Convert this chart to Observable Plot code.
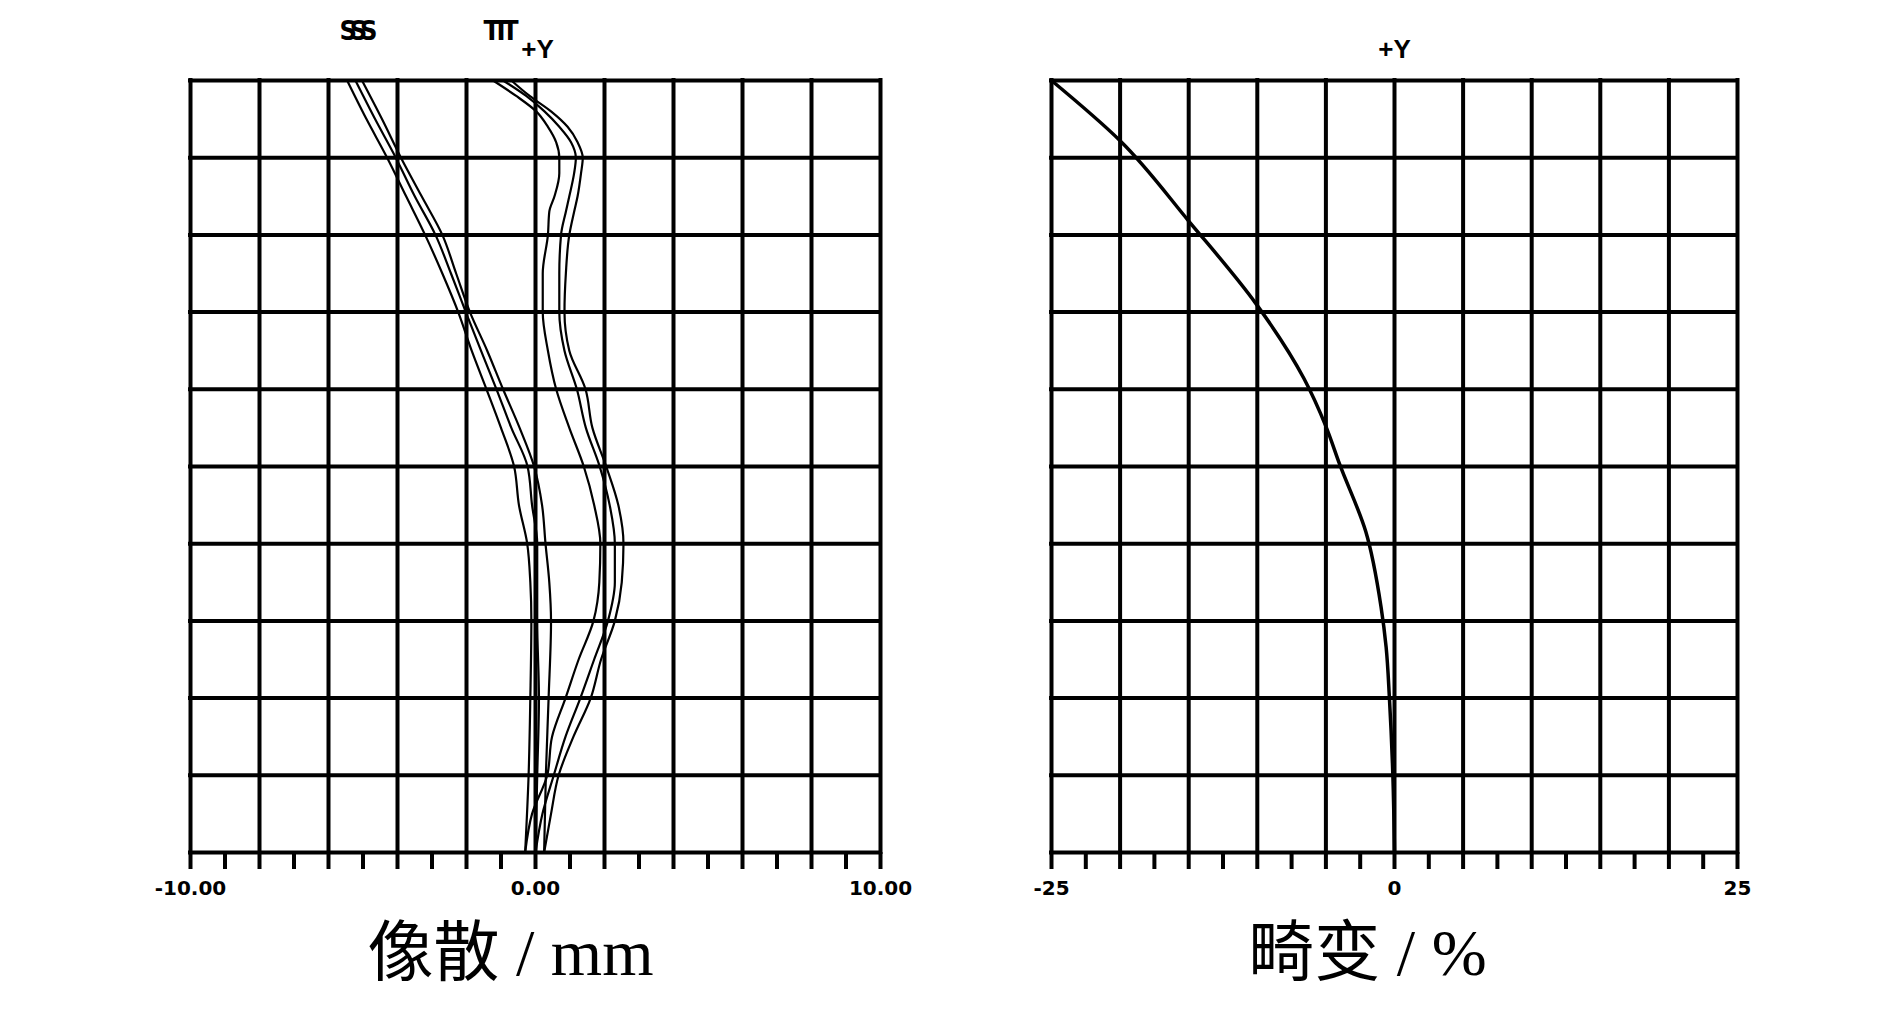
<!DOCTYPE html>
<html>
<head>
<meta charset="utf-8">
<script src="https://cdn.jsdelivr.net/npm/d3@7"></script>
<script src="https://cdn.jsdelivr.net/npm/@observablehq/plot@0.6"></script>
<style>
  html, body { margin: 0; padding: 0; overflow: hidden; background: white; }
  #wrap { position: relative; width: 1890px; height: 1016px; }
  .panel { position: absolute; top: 0; }
</style>
</head>
<body>
<div id="wrap">
  <div class="panel" id="left" style="left:0px"></div>
  <div class="panel" id="right" style="left:945px"></div>
</div>
<script>
// ---------- Astigmatism (像散 / mm) ----------
const fieldS = [0, 0.1, 0.2, 0.3, 0.35, 0.4, 0.45, 0.5, 0.55, 0.6, 0.65, 0.7, 0.75, 0.8, 0.85, 0.9, 0.95, 1.0];
const s1 = [-0.3, -0.2, -0.15, -0.12, -0.15, -0.24, -0.48, -0.62, -1.0, -1.42, -1.85, -2.24, -2.7, -3.2, -3.75, -4.3, -4.9, -5.46];
const s2 = [0.0, 0.05, 0.1, 0.05, 0.05, 0.05, -0.1, -0.23, -0.7, -1.13, -1.58, -2.02, -2.45, -2.9, -3.5, -4.05, -4.65, -5.22];
const s3 = [0.25, 0.3, 0.38, 0.45, 0.4, 0.29, 0.19, -0.04, -0.46, -0.94, -1.4, -1.9, -2.3, -2.7, -3.3, -3.9, -4.45, -5.03];

const fieldT = [0, 0.05, 0.1, 0.15, 0.2, 0.25, 0.3, 0.35, 0.4, 0.45, 0.5, 0.55, 0.6, 0.65, 0.7, 0.75, 0.8, 0.83, 0.85, 0.88, 0.9, 0.92, 0.94, 0.96, 0.98, 1.0];
const t1 = [-0.3, -0.1, 0.34, 0.48, 0.87, 1.25, 1.68, 1.85, 1.88, 1.7, 1.4, 0.98, 0.6, 0.36, 0.21, 0.21, 0.36, 0.4, 0.55, 0.69, 0.69, 0.6, 0.36, 0.02, -0.56, -1.23];
const t2 = [0.0, 0.2, 0.53, 0.87, 1.3, 1.7, 2.1, 2.3, 2.3, 2.15, 1.86, 1.46, 1.2, 0.84, 0.69, 0.69, 0.74, 0.88, 0.98, 1.12, 1.17, 1.03, 0.69, 0.26, -0.27, -0.94];
const t3 = [0.25, 0.45, 0.67, 1.1, 1.6, 1.9, 2.3, 2.5, 2.55, 2.4, 2.05, 1.65, 1.45, 0.98, 0.84, 0.88, 0.98, 1.12, 1.22, 1.32, 1.37, 1.22, 0.93, 0.45, -0.17, -0.7];

const astigTicks = d3.range(-10, 10.001, 1);
const astigGrid = d3.range(-10, 10.001, 2);
const astigTickLabels = {"-10": "-10.00", "0": "0.00", "10": "10.00"};
const astigTitle = "像散 / mm";
const curveLabels = ["SSS", "TTT"];

// ---------- Distortion (畸变 / %) ----------
const fieldD = [0, 0.1, 0.2, 0.266, 0.318, 0.416, 0.503, 0.552, 0.614, 0.711, 0.818, 0.922, 1.0];
const dist = [0, -0.12, -0.37, -0.61, -0.98, -2.1, -4.0, -5.0, -6.6, -10.1, -15, -20, -25];

const distTicks = d3.range(-25, 25.001, 2.5);
const distGrid = d3.range(-25, 25.001, 5);
const distTickLabels = {"-25": "-25", "0": "0", "25": "25"};
const distTitle = "畸变 / %";

const fieldGrid = d3.range(0, 1.0001, 0.1);
const topLabel = "+Y";

// ---------- build tables ----------
const sCurves = [s1, s2, s3];
const tCurves = [t1, t2, t3];
const astigData = [];
sCurves.forEach((arr, i) => arr.forEach((v, j) => astigData.push({series: "S" + i, x: v, y: fieldS[j]})));
tCurves.forEach((arr, i) => arr.forEach((v, j) => astigData.push({series: "T" + i, x: v, y: fieldT[j]})));
// one label per family, placed above the top end of the middle curve of that family
const sTop = [{x: s2[s2.length - 1], y: 1, t: curveLabels[0]}];
const tTop = [{x: t2[t2.length - 1], y: 1, t: curveLabels[1]}];
const distData = dist.map((v, j) => ({x: v, y: fieldD[j]}));

const labelFont = "'DejaVu Sans', sans-serif";
const titleFont = "'Liberation Serif', 'Noto Sans CJK SC', serif";
const famFont = "'DejaVu Sans Condensed', 'DejaVu Sans', sans-serif";

function frameMarks(grid) {
  return [
    Plot.ruleX(grid, {stroke: "black", strokeWidth: 4, strokeLinecap: "square"}),
    Plot.ruleY(fieldGrid, {stroke: "black", strokeWidth: 4, strokeLinecap: "square"})
  ];
}

const left = Plot.plot({
  width: 945, height: 1016,
  marginLeft: 190, marginRight: 65, marginTop: 80, marginBottom: 164,
  x: {domain: [-10, 10]},
  y: {domain: [0, 1], axis: null},
  style: {background: "white", color: "black"},
  marks: [
    ...frameMarks(astigGrid),
    Plot.axisX({ticks: astigTicks, tickSize: 17, strokeWidth: 4, tickPadding: 11,
      tickFormat: d => astigTickLabels[String(Math.round(d))] ?? "",
      fontSize: 20, fontWeight: "bold", fontFamily: labelFont, label: null}),
    Plot.line(astigData, {x: "x", y: "y", z: "series", stroke: "black", strokeWidth: 2.2, curve: "monotone-y"}),
    Plot.text(sTop, {x: "x", y: "y", text: "t", dy: -49, fontSize: 27, fontWeight: "bold", fontFamily: famFont, fill: "black"}),
    Plot.text(tTop, {x: "x", y: "y", text: "t", dx: -6, dy: -49, fontSize: 27, fontWeight: "bold", fontFamily: famFont, fill: "black"}),
    Plot.text([topLabel], {x: 0, y: 1, text: d => d, dx: 2, dy: -31, fontSize: 26, fontWeight: "bold", fontFamily: "'Liberation Sans', sans-serif", fill: "black"}),
    Plot.text([astigTitle], {frameAnchor: "bottom", text: d => d, dx: -25, dy: 122, fontSize: 66, fontFamily: titleFont, fill: "black"})
  ]
});
document.getElementById("left").appendChild(left);
// squeeze the overlapping curve-family letters together, as in the original plot
d3.select(left).selectAll("text")
  .filter(function() { return this.textContent === "SSS"; })
  .attr("letter-spacing", "-6px");
d3.select(left).selectAll("text")
  .filter(function() { return this.textContent === "TTT"; })
  .attr("letter-spacing", "-8px");

const right = Plot.plot({
  width: 945, height: 1016,
  marginLeft: 106, marginRight: 153, marginTop: 80, marginBottom: 164,
  x: {domain: [-25, 25]},
  y: {domain: [0, 1], axis: null},
  style: {background: "white", color: "black"},
  marks: [
    ...frameMarks(distGrid),
    Plot.axisX({ticks: distTicks, tickSize: 17, strokeWidth: 4, tickPadding: 11,
      tickFormat: d => distTickLabels[String(Math.round(d * 10) / 10)] ?? "",
      fontSize: 20, fontWeight: "bold", fontFamily: labelFont, label: null}),
    Plot.line(distData, {x: "x", y: "y", stroke: "black", strokeWidth: 3.5, curve: "monotone-y"}),
    Plot.text([topLabel], {x: 0, y: 1, text: d => d, dy: -31, fontSize: 26, fontWeight: "bold", fontFamily: "'Liberation Sans', sans-serif", fill: "black"}),
    Plot.text([distTitle], {frameAnchor: "bottom", text: d => d, dx: -27, dy: 122, fontSize: 66, fontFamily: titleFont, fill: "black"})
  ]
});
document.getElementById("right").appendChild(right);
</script>
</body>
</html>
